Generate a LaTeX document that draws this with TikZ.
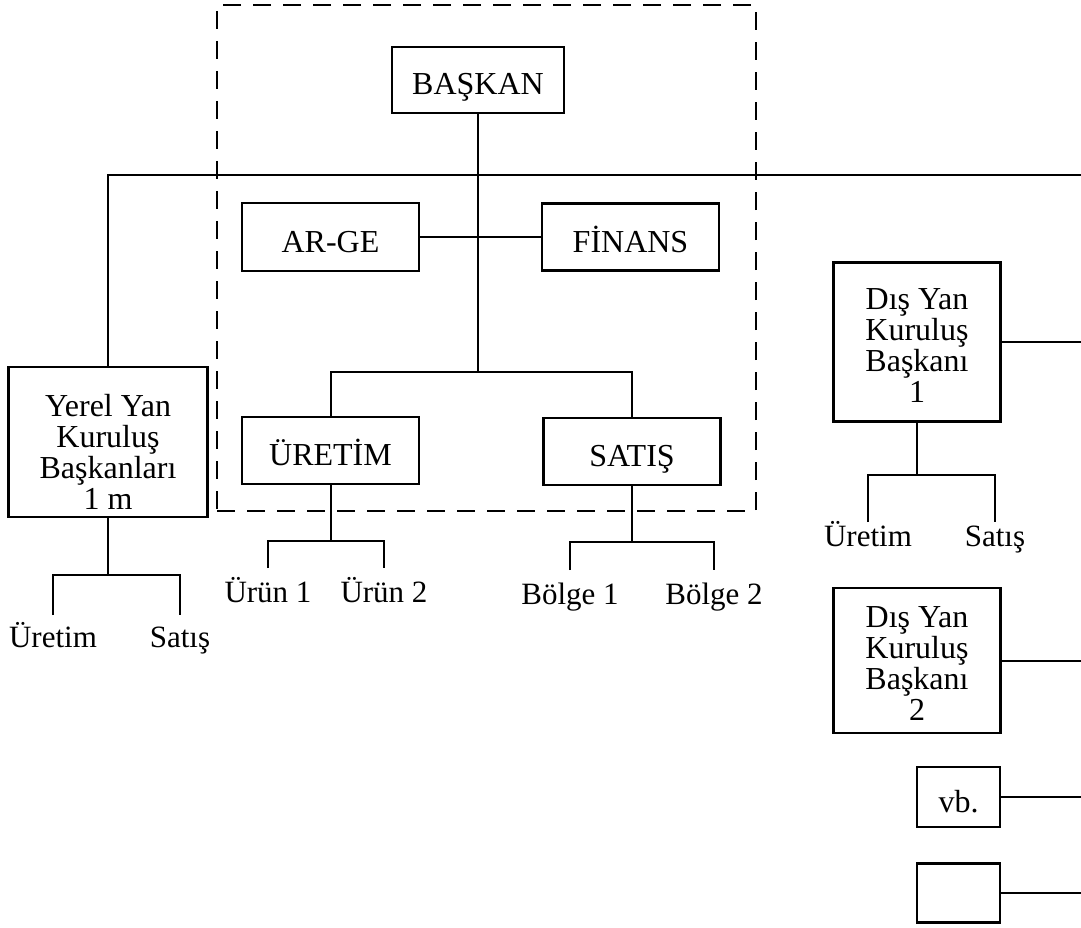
\documentclass[tikz,border=0pt]{standalone}
\usepackage{fontspec}
\setmainfont{Liberation Serif}
\begin{document}
\begin{tikzpicture}[x=1pt,y=-1pt,
  box/.style={draw,line width=2.4pt,inner sep=0pt,align=center,
    font=\fontsize{32}{31}\selectfont,text depth=0pt},
  one/.style={box,text height=30pt},
  lbl/.style={anchor=north,inner xsep=1pt,inner ysep=#1,text height=23pt,
    text depth=7pt,font=\fontsize{31}{31}\selectfont},
  conn/.style={line width=2pt},
  grpbox/.style={draw,line width=2.2pt,dash pattern=on 18pt off 12pt,inner sep=0pt}]
\fill[white] (0,0) rectangle (1081,928);
\useasboundingbox (0,0) rectangle (1081,928);
% dashed group
\node[grpbox,minimum width=539pt,minimum height=506pt] (grp) at (486.5,258) {};
% central boxes
\node[one,minimum width=172pt,minimum height=66pt] (baskan) at (478,80) {BAŞKAN};
\node[one,minimum width=177pt,minimum height=68pt] (arge) at (330.5,237) {AR-GE};
\node[one,minimum width=177pt,minimum height=67pt] (finans) at (630.5,237) {FİNANS};
\node[one,minimum width=177pt,minimum height=67pt] (uretim) at (330.5,450.5) {ÜRETİM};
\node[one,minimum width=177pt,minimum height=67pt] (satis) at (632,451.5) {SATIŞ};
% side boxes
\node[box,text height=134pt,minimum width=199pt,minimum height=150pt] (yerel) at (108,442) {Yerel Yan\\Kuruluş\\Başkanları\\1 m};
\node[box,text height=121pt,minimum width=167pt,minimum height=159pt] (dis1) at (917,342) {Dış Yan\\Kuruluş\\Başkanı\\1};
\node[box,text height=119pt,minimum width=167pt,minimum height=145pt] (dis2) at (917,660.5) {Dış Yan\\Kuruluş\\Başkanı\\2};
\node[box,minimum width=83pt,minimum height=60pt,text height=30pt] (vb) at (958.5,797) {vb.};
\node[box,minimum width=83pt,minimum height=59pt] (bos) at (958.5,893) {};
% labels
\node[lbl=11pt] (u1) at (268,568) {Ürün 1};
\node[lbl=11pt] (u2) at (384,568) {Ürün 2};
\node[lbl=11pt] (b1) at (570,570) {Bölge 1};
\node[lbl=11pt] (b2) at (714,570) {Bölge 2};
\node[lbl=9pt] (yu) at (53,615) {Üretim};
\node[lbl=9pt] (ys) at (180,615) {Satış};
\node[lbl=1pt] (du) at (868,522) {Üretim};
\node[lbl=1pt] (ds) at (995,522) {Satış};
% coordinates
\coordinate (j1) at (478,372);
\coordinate (uj) at (330.5,541);
\coordinate (sj) at (632,542);
\coordinate (yj) at (108,575);
\coordinate (dj) at (917,475);
\coordinate (topR) at (1081,175);
\coordinate (r1) at (1081,342);
\coordinate (r2) at (1081,660.5);
\coordinate (r3) at (1081,797);
\coordinate (r4) at (1081,893);
% connectors
\draw[conn] (baskan) -- (j1);
\draw[conn] (arge) -- (finans);
\draw[conn] (uretim) |- (j1) -| (satis);
\draw[conn] (yerel) |- (topR);
\draw[conn] (uretim) -- (uj);
\draw[conn] (u1) |- (uj) -| (u2);
\draw[conn] (satis) -- (sj);
\draw[conn] (b1) |- (sj) -| (b2);
\draw[conn] (yerel) -- (yj);
\draw[conn] (yu) |- (yj) -| (ys);
\draw[conn] (dis1) -- (dj);
\draw[conn] (du) |- (dj) -| (ds);
\draw[conn] (dis1) -- (r1);
\draw[conn] (dis2) -- (r2);
\draw[conn] (vb) -- (r3);
\draw[conn] (bos) -- (r4);
\end{tikzpicture}
\end{document}
